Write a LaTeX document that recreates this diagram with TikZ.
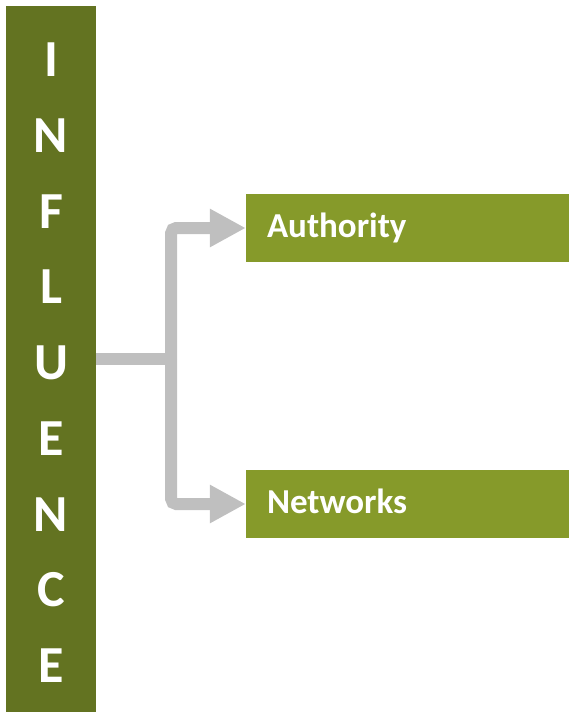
\documentclass[tikz,border=0pt]{standalone}
\usepackage{fontspec}
\setmainfont{Carlito}
\usetikzlibrary{arrows.meta}
\definecolor{barolive}{RGB}{99,115,33}
\definecolor{boxolive}{RGB}{134,154,42}
\definecolor{linkgrey}{RGB}{191,191,191}

\begin{document}
\begin{tikzpicture}[x=1pt,y=-1pt,
  letter/.style={text=white,inner sep=0pt,font=\fontsize{52}{52}\selectfont\bfseries},
  branch/.style={fill=boxolive,text=white,inner xsep=21pt,inner ysep=21.5pt,
    text width=281pt,align=left,text height=22pt,text depth=3pt,
    font=\fontsize{35}{35}\selectfont\bfseries},
  link/.style={draw=linkgrey,line width=12pt,rounded corners=5pt,
    -{Triangle[length=36pt,width=36pt]}}]

\useasboundingbox (0,0) rectangle (569,712);

\node[fill=barolive,minimum width=90pt,minimum height=706pt,inner sep=0pt] (bar) at (51,359) {};
\foreach \ch [count=\i] in {I,N,F,L,U,E,N,C,E}
  \node[letter] (l\i) at (51,{60+(\i-1)*75.7}) {\ch};

\node[branch] (auth) at (407.5,228) {Authority};
\node[branch] (net) at (407.5,504) {Networks};

\draw[draw=linkgrey,line width=12pt] (bar.east) -- ++(81,0) coordinate (fork);
\draw[link] ([xshift=-6pt]fork) |- (auth.west);
\draw[link] ([xshift=-6pt]fork) |- (net.west);

\end{tikzpicture}
\end{document}
